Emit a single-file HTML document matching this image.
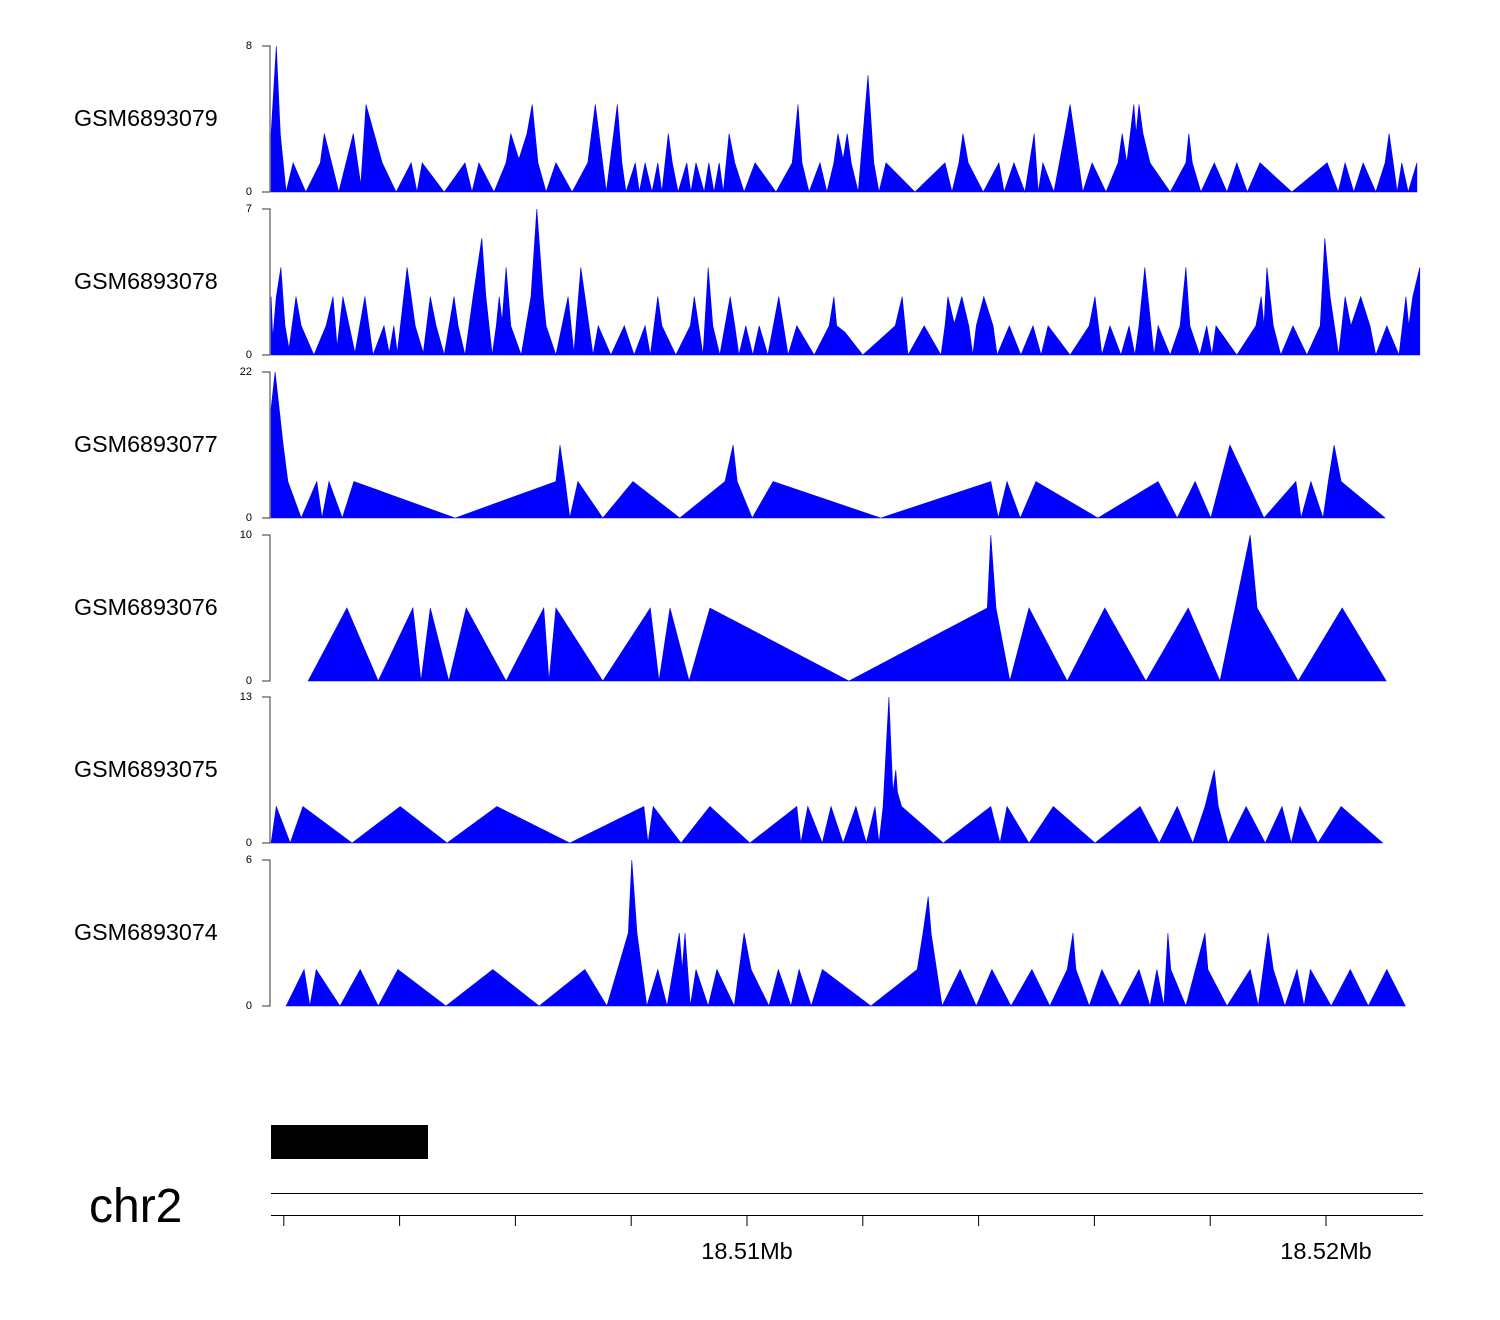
<!DOCTYPE html>
<html><head><meta charset="utf-8"><style>
html,body{margin:0;padding:0;background:#fff;}
svg{display:block;font-family:"Liberation Sans",sans-serif;}
</style></head><body>
<svg id="chart" width="1500" height="1320" viewBox="0 0 1500 1320" xmlns="http://www.w3.org/2000/svg"></svg>
<script>
// positions in kb offset from 18.50 Mb
const trackNames = ["GSM6893079","GSM6893078","GSM6893077","GSM6893076","GSM6893075","GSM6893074"];
const trackMax = [8,7,22,10,13,6];

const pos1 = [1.78,1.87,1.94,1.99,2.04,2.16,2.38,2.63,2.70,2.95,3.20,3.33,3.42,3.70,3.94,4.20,4.30,4.39,4.77,5.13,5.25,5.37,5.63,5.84,5.92,6.06,6.20,6.29,6.39,6.53,6.70,6.98,7.25,7.38,7.57,7.76,7.84,7.91,8.07,8.14,8.24,8.36,8.46,8.53,8.64,8.71,8.81,8.96,9.03,9.12,9.26,9.34,9.43,9.52,9.59,9.69,9.79,9.95,10.14,10.50,10.78,10.88,10.95,11.07,11.26,11.38,11.50,11.57,11.66,11.73,11.80,11.92,12.09,12.19,12.28,12.40,12.90,13.42,13.54,13.66,13.73,13.82,14.08,14.35,14.44,14.61,14.80,14.96,15.03,15.11,15.30,15.49,15.58,15.80,15.96,16.20,16.41,16.48,16.56,16.68,16.72,16.77,16.84,16.96,17.31,17.58,17.63,17.69,17.84,18.07,18.29,18.46,18.64,18.86,19.41,20.02,20.21,20.33,20.48,20.64,20.86,21.02,21.09,21.16,21.23,21.31,21.42,21.57];
const val1 = [3.2,8,3.2,1.6,0,1.6,0,1.6,3.2,0,3.2,0.4,4.8,1.6,0,1.6,0,1.6,0,1.6,0,1.6,0,1.6,3.2,1.8,3.2,4.8,1.6,0,1.6,0,1.6,4.8,0,4.8,1.6,0,1.6,0,1.6,0,1.6,0,3.2,1.6,0,1.6,0,1.6,0,1.6,0,1.6,0,3.2,1.6,0,1.6,0,1.6,4.8,1.6,0,1.6,0,1.6,3.2,1.8,3.2,1.6,0,6.4,1.6,0,1.6,0,1.6,0,1.6,3.2,1.6,0,1.6,0,1.6,0,3.2,0,1.6,0,3.2,4.8,0,1.6,0,1.6,3.2,1.6,4.8,3.2,4.8,3.2,1.6,0,1.6,3.2,1.6,0,1.6,0,1.6,0,1.6,0,1.6,0,1.6,0,1.6,0,1.6,3.2,1.6,0,1.6,0,1.6];

const pos2 = [1.78,1.81,1.87,1.95,2.02,2.09,2.21,2.30,2.52,2.73,2.85,2.92,3.02,3.23,3.40,3.54,3.73,3.82,3.90,3.96,4.13,4.27,4.41,4.53,4.63,4.77,4.94,5.01,5.13,5.27,5.42,5.49,5.60,5.67,5.72,5.77,5.84,5.92,6.10,6.27,6.37,6.48,6.53,6.70,6.91,7.01,7.13,7.20,7.34,7.43,7.65,7.88,8.05,8.24,8.33,8.46,8.53,8.77,9.02,9.09,9.24,9.33,9.41,9.53,9.71,9.79,9.86,9.98,10.10,10.21,10.36,10.55,10.71,10.86,11.16,11.42,11.50,11.55,11.69,12.00,12.56,12.68,12.78,13.06,13.35,13.42,13.47,13.58,13.71,13.83,13.90,13.96,14.09,14.25,14.32,14.53,14.73,14.94,15.08,15.20,15.58,15.91,16.01,16.13,16.27,16.46,16.60,16.70,16.77,16.87,17.03,17.10,17.31,17.48,17.58,17.65,17.82,17.94,18.03,18.10,18.46,18.79,18.88,18.93,18.98,19.09,19.22,19.43,19.67,19.90,19.98,20.07,20.22,20.33,20.43,20.60,20.76,20.86,21.05,21.26,21.38,21.43,21.50,21.62];
const val2 = [2.8,0.8,2.8,4.2,1.4,0.3,2.8,1.4,0,1.4,2.8,0.4,2.8,0.1,2.8,0,1.4,0.1,1.4,0.1,4.2,1.4,0.1,2.8,1.4,0,2.8,1.4,0,2.8,5.6,2.8,0,1.4,2.8,1.6,4.2,1.4,0,2.8,7,2.8,1.4,0,2.8,0.1,4.2,2.8,0,1.4,0,1.4,0,1.4,0,2.8,1.4,0,1.4,2.8,0,4.2,1.4,0,2.8,1.4,0,1.4,0,1.4,0,2.8,0,1.4,0,1.4,2.8,1.4,1.1,0,1.4,2.8,0,1.4,0,1.4,2.8,1.5,2.8,1.4,0,1.4,2.8,1.4,0,1.4,0,1.4,0,1.4,0,1.4,2.8,0,1.4,0,1.4,0,1.4,4.2,0,1.4,0,1.4,4.2,1.4,0,1.4,0,1.4,0,1.4,2.8,1.4,4.2,1.4,0,1.4,0,1.4,5.6,2.8,0,2.8,1.4,2.8,1.4,0,1.4,0,2.8,1.4,2.8,4.2];

const pos3 = [1.78,1.85,1.99,2.07,2.30,2.57,2.66,2.78,3.01,3.21,4.96,6.70,6.77,6.86,6.94,7.08,7.51,8.03,8.84,9.62,9.76,9.83,10.09,10.45,12.31,14.21,14.34,14.49,14.72,14.99,16.06,17.10,17.43,17.74,18.01,18.34,18.93,19.48,19.57,19.74,19.95,20.04,20.14,20.26,21.02];
const val3 = [16.5,22,11,5.5,0,5.5,0,5.5,0,5.5,0,5.5,11,5.5,0,5.5,0,5.5,0,5.5,11,5.5,0,5.5,0,5.5,0,5.5,0,5.5,0,5.5,0,5.5,0,11,0,5.5,0,5.5,0,5.5,11,5.5,0];

const pos4 = [2.42,3.09,3.63,4.23,4.37,4.53,4.85,5.15,5.84,6.49,6.58,6.70,7.51,8.33,8.48,8.67,9.00,9.36,11.76,14.15,14.21,14.30,14.54,14.87,15.53,16.18,16.89,17.62,18.17,18.69,18.81,19.52,20.28,21.04];
const val4 = [0,5,0,5,0,5,0,5,0,5,0,5,0,5,0,5,0,5,0,5,10,5,0,5,0,5,0,5,0,10,5,0,5,0];

const pos5 = [1.78,1.87,2.11,2.33,3.18,4.01,4.82,5.68,6.94,8.22,8.29,8.38,8.86,9.36,10.05,10.86,10.93,11.05,11.30,11.45,11.66,11.88,12.06,12.21,12.28,12.35,12.45,12.52,12.57,12.60,12.67,13.39,14.21,14.37,14.49,14.87,15.29,16.01,16.79,17.12,17.43,17.70,17.91,18.07,18.14,18.31,18.62,18.95,19.24,19.40,19.55,19.86,20.26,20.98];
const val5 = [0,3.25,0,3.25,0,3.25,0,3.25,0,3.25,0,3.25,0,3.25,0,3.25,0,3.25,0,3.25,0,3.25,0,3.25,0,3.25,13,4.5,6.5,4.5,3.25,0,3.25,0,3.25,0,3.25,0,3.25,0,3.25,0,3.25,6.5,3.25,0,3.25,0,3.25,0,3.25,0,3.25,0];

const pos6 = [2.04,2.35,2.45,2.56,2.97,3.32,3.63,3.97,4.80,5.61,6.41,7.20,7.58,7.95,8.01,8.10,8.27,8.46,8.62,8.83,8.88,8.93,9.02,9.12,9.33,9.48,9.78,9.95,10.07,10.38,10.54,10.76,10.90,11.11,11.30,12.14,12.94,13.04,13.13,13.18,13.37,13.68,13.96,14.23,14.56,14.92,15.23,15.53,15.63,15.68,15.91,16.13,16.44,16.77,16.96,17.08,17.20,17.27,17.32,17.58,17.91,17.96,18.29,18.69,18.83,19.00,19.09,19.29,19.50,19.62,19.73,20.09,20.42,20.73,21.05,21.37];
const val6 = [0,1.5,0,1.5,0,1.5,0,1.5,0,1.5,0,1.5,0,3,6,3,0,1.5,0,3,1.5,3,0,1.5,0,1.5,0,3,1.5,0,1.5,0,1.5,0,1.5,0,1.5,3,4.5,3,0,1.5,0,1.5,0,1.5,0,1.5,3,1.5,0,1.5,0,1.5,0,1.5,0,3,1.5,0,3,1.5,0,1.5,0,3,1.5,0,1.5,0,1.5,0,1.5,0,1.5,0];

const axisTicks = [2,4,6,8,10,12,14,16,18,20];
const axisLabels = {10:"18.51Mb",20:"18.52Mb"};

const NS = "http://www.w3.org/2000/svg";
const svg = document.getElementById("chart");
function xs(kb){ return 747 + (kb - 10) * 57.9; }
function mk(tag, attrs, parent){
  const e = document.createElementNS(NS, tag);
  for (const k in attrs) e.setAttribute(k, attrs[k]);
  (parent || svg).appendChild(e);
  return e;
}
const allPos = [pos1,pos2,pos3,pos4,pos5,pos6];
const allVal = [val1,val2,val3,val4,val5,val6];
const tops = [46,209,372,535,697,860];
const H = 146;
for (let t = 0; t < 6; t++) {
  const top = tops[t], base = top + H, mx = trackMax[t];
  const ys = v => base - v / mx * H;
  const g = mk("g", {});
  
  
  const lab = mk("text", {x: 74, y: top + 80, "font-size": 23.3, fill: "#000"}, g);
  lab.textContent = trackNames[t];
  
  
  const ax = mk("path", {d: `M262 ${top}H270V${base}H262`, stroke: "#333", fill: "none", "stroke-width": 1}, g);
  
  
  const tmax = mk("text", {x: 252, y: top + 3, "font-size": 11, "text-anchor": "end", fill: "#000"}, g);
  tmax.textContent = mx;
  
  
  const tmin = mk("text", {x: 252, y: base + 3, "font-size": 11, "text-anchor": "end", fill: "#000"}, g);
  tmin.textContent = 0;
  
  
  const P = allPos[t], V = allVal[t];
  let d = `M${xs(P[0]).toFixed(1)} ${base}`;
  for (let i = 0; i < P.length; i++) d += `L${xs(P[i]).toFixed(1)} ${ys(V[i]).toFixed(1)}`;
  d += `L${xs(P[P.length-1]).toFixed(1)} ${base}Z`;
  const area = mk("path", {d: d, fill: "#0000ff", stroke: "#0000ff", "stroke-width": 0.6, "stroke-linejoin": "miter"}, g);
  
  
}
// gene bar
const gene = mk("rect", {x: 271, y: 1125, width: 157, height: 34, fill: "#000"});


const gl = mk("line", {x1: 271, x2: 1423, y1: 1193.5, y2: 1193.5, stroke: "#000", "stroke-width": 1});


const xl = mk("line", {x1: 271, x2: 1423, y1: 1215.5, y2: 1215.5, stroke: "#000", "stroke-width": 1});


for (const k of axisTicks) {
  const tk = mk("line", {x1: xs(k), x2: xs(k), y1: 1215, y2: 1226, stroke: "#000", "stroke-width": 1});
  
  
  if (axisLabels[k]) {
    const tl = mk("text", {x: xs(k), y: 1259, "font-size": 23.5, "text-anchor": "middle", fill: "#000"});
    tl.textContent = axisLabels[k];
    
    
  }
}
const chr = mk("text", {x: 89, y: 1222, "font-size": 48, fill: "#000"});
chr.textContent = "chr2";


</script>
</body></html>
